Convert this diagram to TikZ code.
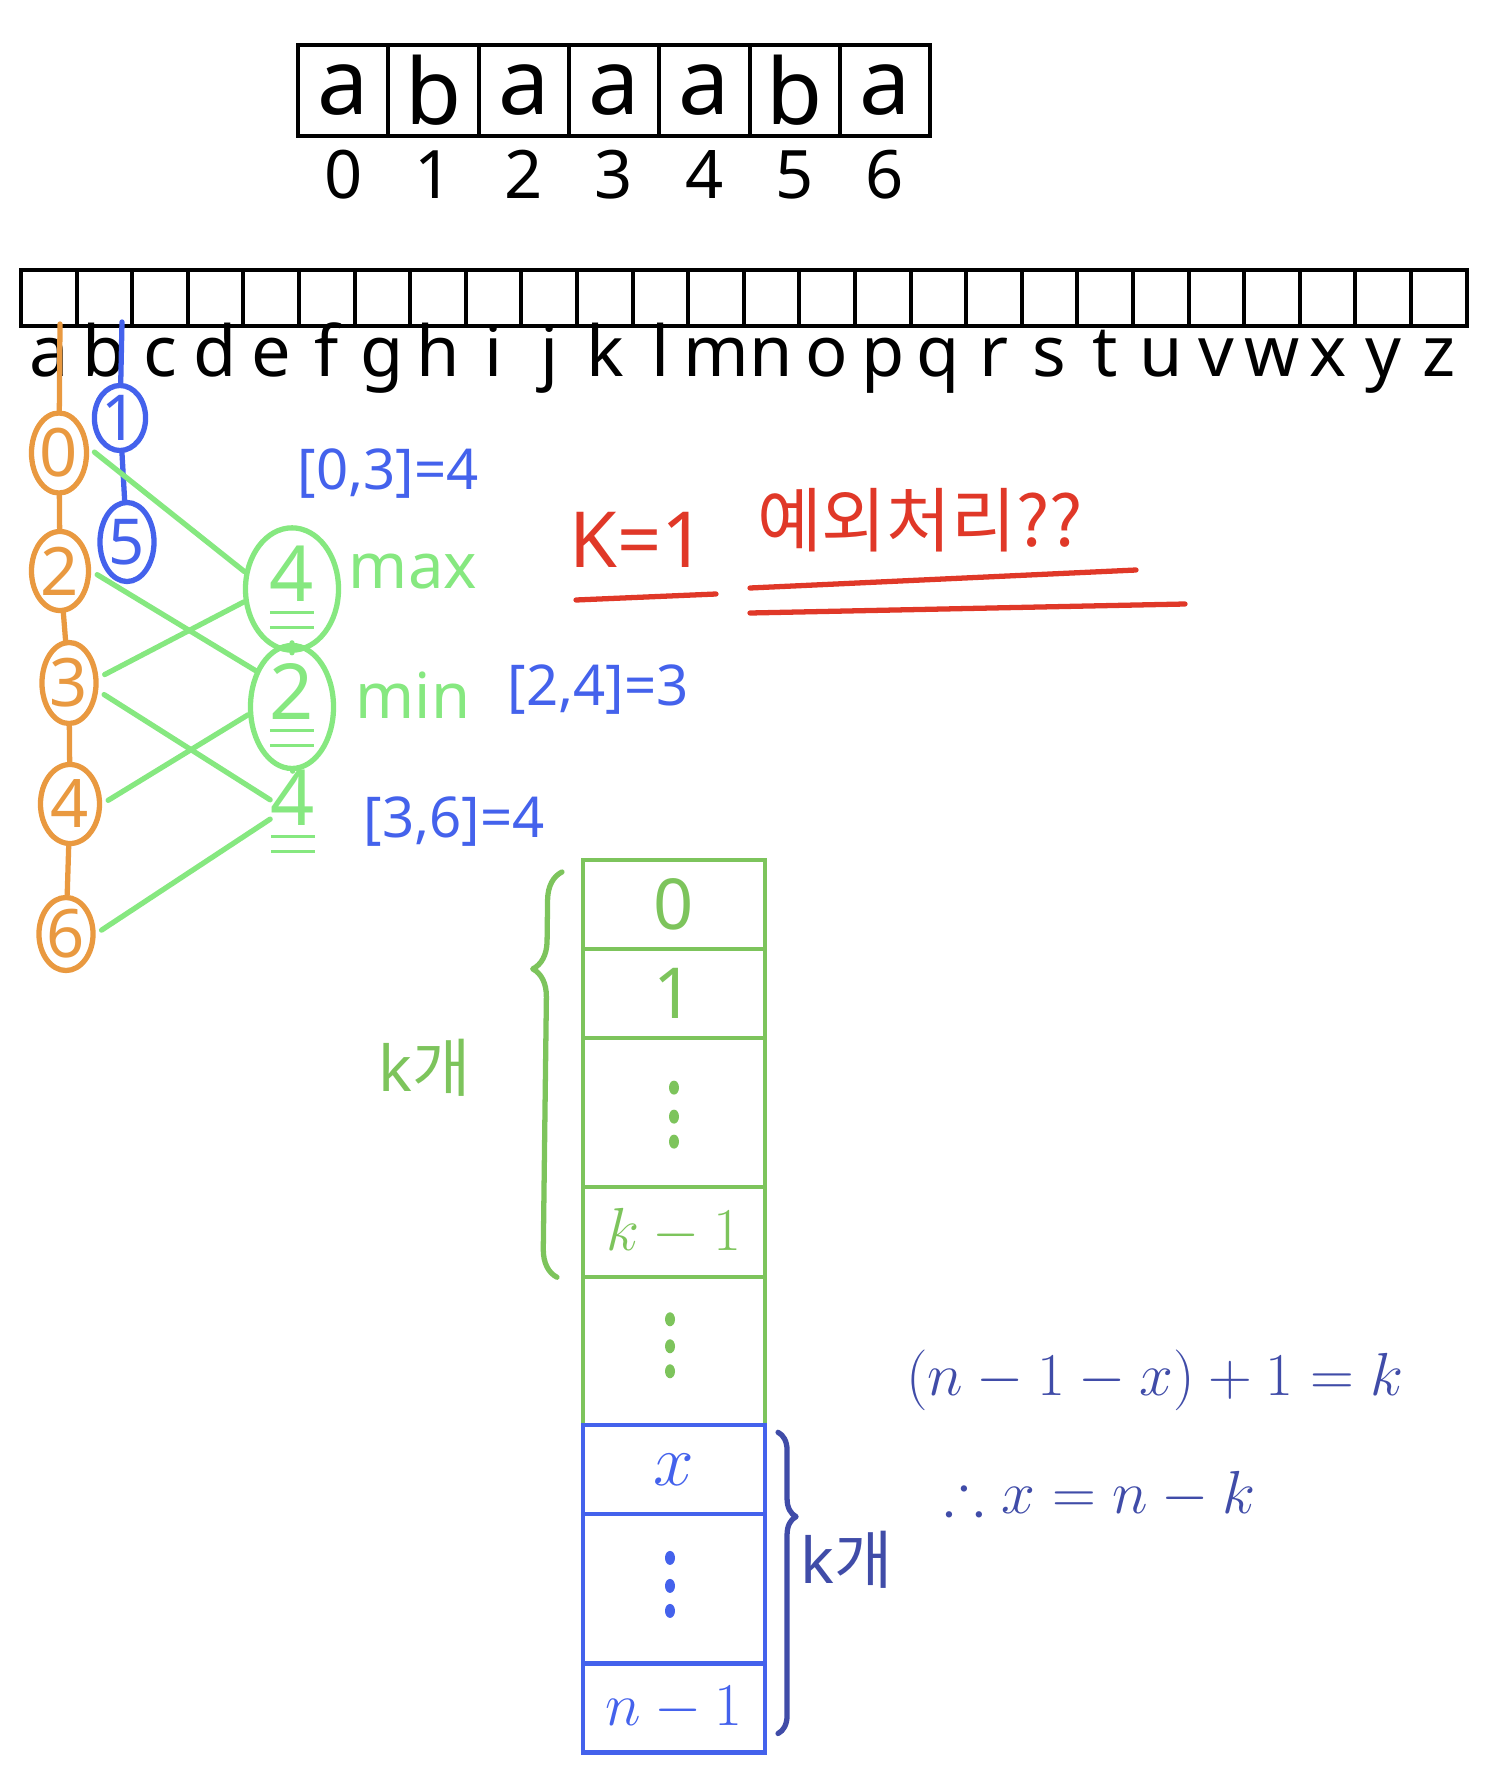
\documentclass[tikz,border=0pt]{standalone}
\usepackage{amsmath,amssymb}
\usepackage{fontspec}
\setmainfont{Noto Sans}
\newfontfamily\krfont{Noto Sans CJK KR}
\usetikzlibrary{shapes.geometric,positioning,calc,decorations.pathreplacing}
\definecolor{orangeink}{RGB}{233,153,64}
\definecolor{blueink}{RGB}{68,98,236}
\definecolor{greenink}{RGB}{134,232,128}
\definecolor{boxgreen}{RGB}{125,196,92}
\definecolor{redink}{RGB}{224,56,40}
\definecolor{navyink}{RGB}{64,76,168}
\newcommand\fs[1]{\fontsize{#1}{#1}\selectfont}
\tikzset{pen/.style={line width=1.5pt,line cap=round,line join=round},
 cell/.style={draw,line width=1.1pt,minimum width=0.903cm,minimum height=0.91cm,
  inner sep=0pt,outer sep=0pt,font=\fs{26}},
 abox/.style={draw,line width=1.1pt,minimum width=0.556cm,minimum height=0.56cm,
  inner sep=0pt,outer sep=0pt},
 idx/.style={anchor=base,font=\fs{19}},
 letter/.style={anchor=base,font=\fs{20}},
 orangenode/.style={pen,draw=orangeink,text=orangeink,ellipse,inner sep=0pt,font=\fs{19}},
 bluenode/.style={pen,draw=blueink,text=blueink,ellipse,inner sep=0pt,font=\fs{18}},
 greennode/.style={pen,draw=greenink,text=greenink,ellipse,inner sep=0pt,font=\fs{22}},
 link/.style={pen,greenink,shorten <=2pt},
 bluelabel/.style={text=blueink,font=\fs{16}},
 greenlabel/.style={text=greenink,font=\fs{18}},
 slot/.style={line width=1.2pt,minimum width=1.82cm,inner sep=0pt,outer sep=0pt,font=\fs{20}},
 navylabel/.style={text=navyink,font=\fs{17}}}

\begin{document}
\begin{tikzpicture}[x=0.01cm,y=-0.01cm]
\useasboundingbox (0,0) rectangle (1488,1788);
% string and its positions
\foreach \ch [count=\i from 0] in {a,b,a,a,a,b,a}{
 \node[cell] (str\i) at ({343.2+90.3*\i},90.5) {\ch};
 \node[idx] (pos\i) at ({343.2+90.3*\i},199) {\i};}
% alphabet table
\foreach \ch [count=\i from 0] in {a,...,z}{
 \node[abox] (c\ch) at ({48.8+55.6*\i},298) {};
 \node[letter] (l\ch) at ({48.8+55.6*\i},376) {\ch};}
% position lists
\coordinate (oa) at (60,324);
\coordinate (ob) at (122,322);
\node[orangenode,minimum width=0.55cm,minimum height=0.8cm] (o0) at (59,453) {0};
\node[orangenode,minimum width=0.57cm,minimum height=0.79cm] (o2) at (60,571) {2};
\node[orangenode,minimum width=0.5cm,minimum height=0.81cm] (o3) at (69,683) {3};
\node[orangenode,minimum width=0.59cm,minimum height=0.79cm] (o4) at (70,804) {4};
\node[orangenode,minimum width=0.54cm,minimum height=0.73cm] (o6) at (66,934) {6};
\node[bluenode,minimum width=0.4cm,minimum height=0.65cm] (b1) at (120,418) {1};
\node[bluenode,minimum width=0.54cm,minimum height=0.79cm] (b5) at (127,542) {5};
\draw[pen,orangeink] (oa) -- (o0) -- (o2) -- (o3) -- (o4) -- (o6);
\draw[pen,blueink] (ob) -- (b1) -- (b5);
% window lengths
\node[greennode,minimum width=0.93cm,minimum height=1.15cm] (gmax) at (292,589) {\underline{\underline{4}}};
\node[greennode,minimum width=0.83cm,minimum height=1.16cm] (gmin) at (292,707) {\underline{\underline{2}}};
\node[text=greenink,inner sep=0pt,font=\fs{22}] (gtail) at (293,813) {\underline{\underline{4}}};
\draw[pen,greenink] (gmax) -- (gmin) -- (gtail);
\draw[link] (o0.10) -- (gmax.160);
\draw[link] (o2.east) -- (gmin.135);
\draw[link] (o3.10) -- (gmax.195);
\draw[link] (o3.-15) -- (gtail.150);
\draw[link] (o4.east) -- (gmin.190);
\draw[link] (o6.east) -- (gtail.195);
\node[bluelabel] (q03) at (388,474) {[0,3]=4};
\node[greenlabel] (lmax) at (413,572) {max};
\node[greenlabel] (lmin) at (413,695) {min};
\node[bluelabel] (q24) at (598,690) {[2,4]=3};
\node[bluelabel] (q36) at (454,822) {[3,6]=4};
% k = 1 note
\node[text=redink,font=\fs{22}] (kone) at (638,540) {K=1};
\node[text=redink,font=\krfont\fs{20}] (exc) at (920,520) {예외처리??};
\coordinate (u1) at (576,600); \coordinate (u2) at (716,594);
\coordinate (u3) at (750,588); \coordinate (u4) at (1136,570);
\coordinate (u5) at (750,613); \coordinate (u6) at (1185,604);
\draw[pen,redink] (u1) -- (u2);
\draw[pen,redink] (u3) -- (u4);
\draw[pen,redink] (u5) -- (u6);
% array of k-th elements
\node[slot,draw=boxgreen,text=boxgreen,minimum height=0.89cm] (r0) at (674,904.5) {0};
\node[slot,draw=boxgreen,text=boxgreen,minimum height=0.89cm,below=0pt of r0] (r1) {1};
\node[slot,draw=boxgreen,minimum height=1.49cm,below=0pt of r1] (r2) {};
\node[slot,draw=boxgreen,text=boxgreen,minimum height=0.9cm,below=0pt of r2,font=\fs{18}] (r3) {$k-1$};
\node[slot,draw=boxgreen,minimum height=1.48cm,below=0pt of r3] (r4) {};
\node[slot,draw=blueink,text=blueink,minimum height=0.89cm,below=0pt of r4] (t0) {$x$};
\node[slot,draw=blueink,minimum height=1.49cm,below=0pt of t0] (t1) {};
\node[slot,draw=blueink,text=blueink,minimum height=0.89cm,below=0pt of t1,font=\fs{18}] (t2) {$n-1$};
\foreach \dy in {-25,4,29} \fill[boxgreen] ($(r2)+(0,\dy)$) ellipse (0.05cm and 0.07cm);
\foreach \dy in {-32,-5,20} \fill[boxgreen] ($(r4)+(-4,\dy)$) ellipse (0.05cm and 0.07cm);
\foreach \dy in {-31,-3,22} \fill[blueink] ($(t1)+(-4,\dy)$) ellipse (0.05cm and 0.07cm);
\draw[pen,boxgreen,decorate,decoration={brace,amplitude=0.28cm,aspect=0.76}]
 ($(r3.south west)+(-26,0)$) -- ($(r0.north west)+(-21,12)$);
\draw[pen,navyink,decorate,decoration={brace,amplitude=0.18cm,aspect=0.28}]
 ($(t0.north east)+(13,7)$) -- ($(t2.south east)+(13,-19)$);
\node[text=boxgreen,font=\fs{18}] (kg) at (425,1068) {k{\krfont 개}};
\node[text=navyink,font=\fs{18}] (kb) at (847,1560) {k{\krfont 개}};
% where the last k start
\node[navylabel] (eq1) at (1155,1380) {$(n-1-x)+1=k$};
\node[navylabel] (eq2) at (1100,1495) {$\therefore x=n-k$};
\end{tikzpicture}
\end{document}
